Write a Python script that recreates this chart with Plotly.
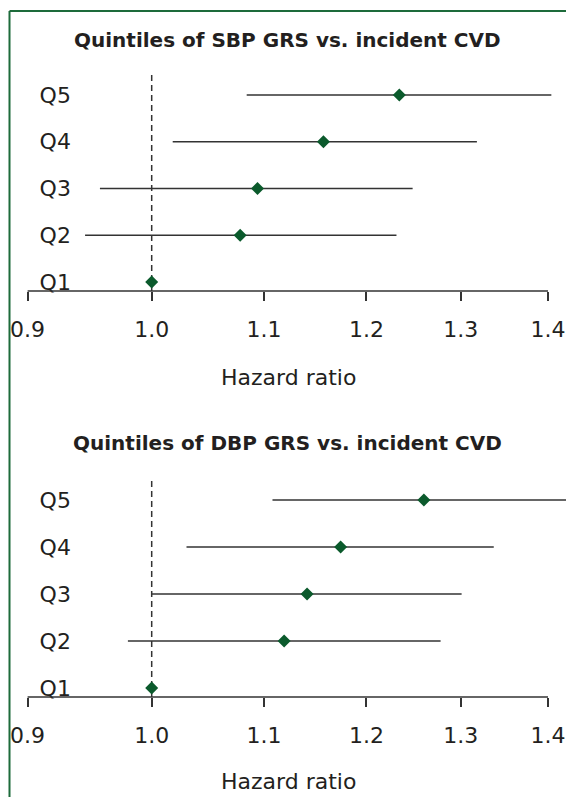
import math
import plotly.graph_objects as go

# ---- data ----
categories = ["Q1", "Q2", "Q3", "Q4", "Q5"]

sbp_hr = [1.000, 1.078, 1.094, 1.157, 1.234]
sbp_lo = [1.000, 0.945, 0.957, 1.018, 1.084]
sbp_hi = [1.000, 1.231, 1.248, 1.318, 1.404]

dbp_hr = [1.000, 1.119, 1.141, 1.174, 1.260]
dbp_lo = [1.000, 0.980, 1.000, 1.030, 1.108]
dbp_hi = [1.000, 1.278, 1.301, 1.337, 1.440]

tick_vals = [0.9, 1.0, 1.1, 1.2, 1.3, 1.4]
tick_text = ["0.9", "1.0", "1.1", "1.2", "1.3", "1.4"]

titles = ["Quintiles of SBP GRS vs. incident CVD",
          "Quintiles of DBP GRS vs. incident CVD"]
x_title = "Hazard ratio"

# ---- style ----
W, H = 566, 797
FONT = "DejaVu Sans"
TXT = "#231f20"
LINE = "#333333"
MARK = "#0b5a2c"
FRAME = "#1d6b3b"

def fx(sx):
    return sx / W

def fy(sy):
    return 1 - sy / H

px_per_ln = 1177.8
x_min = 0.9
plot_left = 27.6
x_max = x_min * math.exp((W - plot_left) / px_per_ln)
ref_value = 1.0

def xfrac(v):
    return (math.log10(v) - math.log10(x_min)) / (math.log10(x_max) - math.log10(x_min))

fig = go.Figure()

panels = [
    (sbp_hr, sbp_lo, sbp_hi, "x", "y"),
    (dbp_hr, dbp_lo, dbp_hi, "x2", "y2"),
]
for hr, lo, hi, xa, ya in panels:
    fig.add_trace(go.Scatter(
        x=hr, y=categories, mode="markers",
        xaxis=xa, yaxis=ya,
        marker=dict(symbol="diamond", size=10, color=MARK),
        error_x=dict(type="data", symmetric=False,
                     array=[h - m for h, m in zip(hi, hr)],
                     arrayminus=[m - l for m, l in zip(hr, lo)],
                     width=0, thickness=1.6, color=LINE),
        showlegend=False, hoverinfo="skip",
    ))

dom_top = [fy(291), fy(72)]
dom_bot = [fy(697), fy(477)]
x_dom = [fx(plot_left), 1.0]

xaxis_common = dict(
    type="log", range=[math.log10(x_min), math.log10(x_max)],
    domain=x_dom, tickvals=tick_vals, ticktext=tick_text,
    ticks="outside", ticklen=9, tickwidth=1.5, tickcolor=LINE,
    showline=False, showgrid=False, zeroline=False,
    tickfont=dict(family=FONT, size=22, color=TXT),
    ticklabelstandoff=10, ticklabeloverflow="allow", automargin=False,
)
yaxis_common = dict(
    type="category", categoryorder="array", categoryarray=categories,
    range=[-0.19, 4.49], showgrid=False, zeroline=False, showline=False,
    ticks="", ticklabelposition="inside", ticklabelstandoff=9,
    ticklabeloverflow="allow", automargin=False,
    tickfont=dict(family=FONT, size=22, color=TXT),
)

fig.update_layout(
    width=W, height=H,
    margin=dict(l=0, r=0, t=0, b=0, autoexpand=False),
    paper_bgcolor="white", plot_bgcolor="white",
    xaxis=dict(**xaxis_common, anchor="y"),
    yaxis=dict(**yaxis_common, domain=dom_top, anchor="x"),
    xaxis2=dict(**xaxis_common, anchor="y2"),
    yaxis2=dict(**yaxis_common, domain=dom_bot, anchor="x2"),
)

shapes = []
for xa, ya in [("x", "y"), ("x2", "y2")]:
    shapes.append(dict(type="line", xref=f"{xa} domain", yref=f"{ya} domain",
                       x0=xfrac(ref_value), x1=xfrac(ref_value), y0=0, y1=1,
                       line=dict(color=LINE, width=1.5, dash="6px,4px"), layer="below"))
    shapes.append(dict(type="line", xref=f"{xa} domain", yref=f"{ya} domain",
                       x0=xfrac(tick_vals[0]), x1=xfrac(tick_vals[-1]), y0=0, y1=0,
                       line=dict(color=LINE, width=1.5)))
shapes.append(dict(type="line", xref="paper", yref="paper",
                   x0=fx(9.5), x1=1.0, y0=fy(11), y1=fy(11),
                   line=dict(color=FRAME, width=2)))
shapes.append(dict(type="line", xref="paper", yref="paper",
                   x0=fx(9.5), x1=fx(9.5), y0=0, y1=fy(11),
                   line=dict(color=FRAME, width=2)))
fig.update_layout(shapes=shapes)

annotations = []
for title, ty, hy in [(titles[0], 40, 378), (titles[1], 443, 781)]:
    annotations.append(dict(text=f"<b>{title}</b>", xref="paper", yref="paper",
                            x=fx(287), y=fy(ty), xanchor="center", yanchor="middle",
                            showarrow=False, font=dict(family=FONT, size=20, color=TXT)))
    annotations.append(dict(text=x_title, xref="paper", yref="paper",
                            x=fx(288), y=fy(hy), xanchor="center", yanchor="middle",
                            showarrow=False, font=dict(family=FONT, size=22, color=TXT)))
fig.update_layout(annotations=annotations)

fig.write_html(
    "out.html",
    config={"displayModeBar": False},
    post_script="document.body.style.margin='0px';document.body.style.overflow='hidden';",
)
